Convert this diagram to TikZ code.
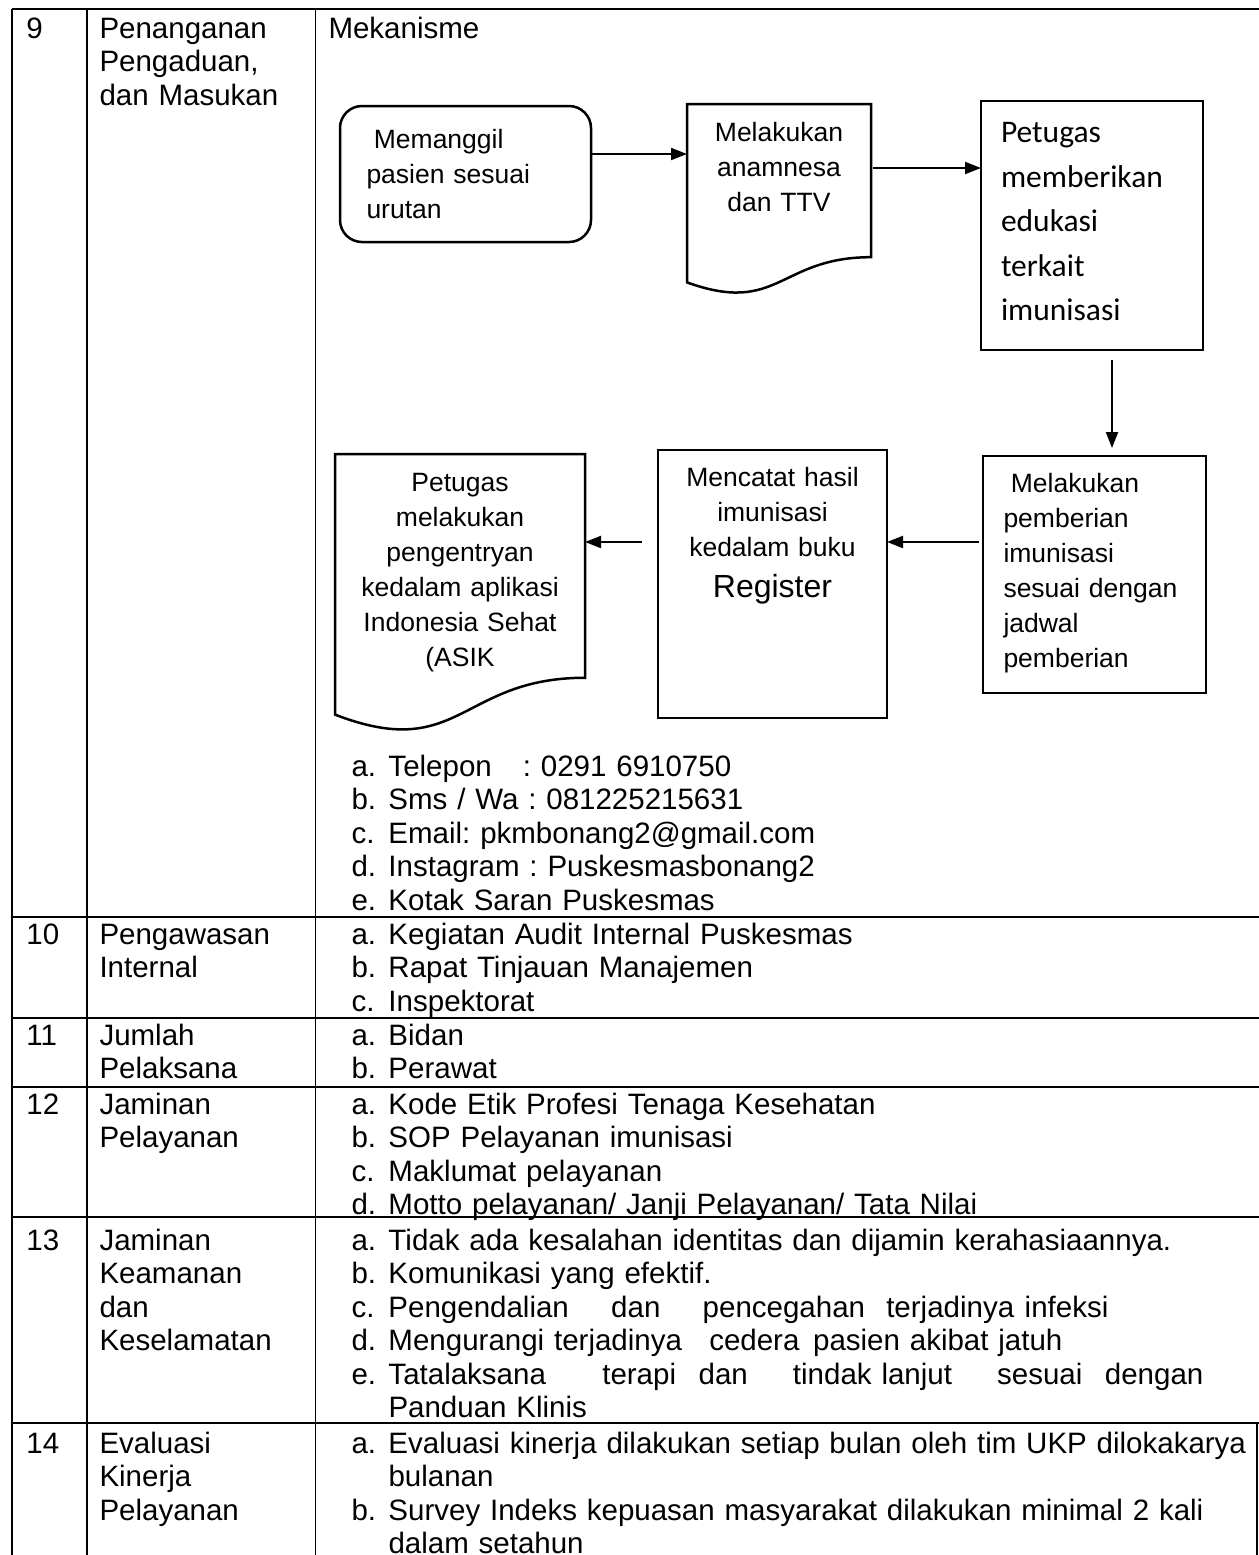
\documentclass[tikz,border=0pt]{standalone}
\usepackage{fontspec}
\setmainfont{Liberation Sans}
\newfontfamily\calibri{Carlito}
\usetikzlibrary{positioning,calc,arrows.meta}
\frenchspacing
\newlength{\pix}
\setlength{\pix}{0.4pt}
\newcommand{\cellfont}{\fontsize{11.8}{13.36}\selectfont}
\newcommand{\boxfont}{\fontsize{10.6}{14}\selectfont}
\newcommand{\edufont}{\calibri\fontsize{12.6}{17.8}\selectfont}
\newcommand{\itm}[2]{\makebox[37\pix][l]{#1}#2}
% wavy "document" outline round an empty node
\newcommand{\docpath}[1]{%
  \draw[boxline] (#1.north west) -- (#1.north east)
    -- ($(#1.north east)!0.802!(#1.south east)$)
    .. controls ($(#1.north)!0.802!(#1.south)$) and ($(#1.north)!1.107!(#1.south)$)
    .. ($(#1.north west)!0.934!(#1.south west)$) -- cycle;}
\tikzset{
  tabline/.style={line width=0.7pt},
  boxline/.style={line width=1pt},
  flowbox/.style={draw,boxline,rectangle,inner sep=0pt,outer sep=0pt,anchor=north west},
  docbox/.style={rectangle,inner sep=0pt,outer sep=0pt,anchor=north west},
  boxtxt/.style={inner sep=0pt,font=\boxfont,execute at begin node=\strut},
  cell/.style={inner sep=0pt,anchor=north west,yshift=9.352pt,text width=900\pix,
    align=left,font=\cellfont,execute at begin node=\strut},
  arr/.style={line width=0.8pt,-{Triangle[length=6.4pt,width=4.8pt]}}
}

\begin{document}
\begin{tikzpicture}[x=\pix,y=-\pix]
\useasboundingbox (0,0) rectangle (1259,1555);

% table rules
\draw[tabline] (12,9) -- (1259,9);
\foreach \y in {917,1018,1087,1217,1423}
  \draw[tabline] (12,\y) -- (1259,\y);
\foreach \x in {12,87,315.5}
  \draw[tabline] (\x,9) -- (\x,1555);
\draw[tabline] (1257,1423) -- (1257,1555);

% row 9
\node[cell] (no_9) at (26,38) {9};
\node[cell] (head_9) at (99,38) {Penanganan\\Pengaduan,\\dan Masukan};
\node[cell] (mekanisme) at (328,38) {Mekanisme};

% flowchart boxes
\node[flowbox,rounded corners=8.8pt,minimum width=251\pix,minimum height=136\pix] (call) at (340,106) {};
\node[docbox,minimum width=184\pix,minimum height=191\pix] (anamnesa) at (687,104) {};
\node[flowbox,minimum width=222\pix,minimum height=249\pix] (edukasi) at (981,101) {};
\node[flowbox,minimum width=223\pix,minimum height=237\pix] (pemberian) at (983,456) {};
\node[flowbox,minimum width=229\pix,minimum height=268\pix] (catat) at (658,450) {};
\node[docbox,minimum width=250\pix,minimum height=279\pix] (entry) at (335,454) {};
\docpath{anamnesa}
\docpath{entry}

% texts inside the boxes
\node[boxtxt,text width=220\pix,align=left,below right=17.5\pix and 26\pix of call.north west] (call_txt)
  {\hspace*{0.278em}Memanggil\\pasien sesuai\\urutan};
\node[boxtxt,text width=184\pix,align=center,below=12.5\pix of anamnesa.north] (anamnesa_txt)
  {Melakukan\\anamnesa\\dan TTV};
\node[boxtxt,font=\edufont,text width=200\pix,align=left,below right=9.85\pix and 19.5\pix of edukasi.north west] (edukasi_txt)
  {Petugas\\memberikan\\edukasi\\terkait\\imunisasi};
\node[boxtxt,text width=210\pix,align=left,below right=11.5\pix and 20\pix of pemberian.north west] (pemberian_txt)
  {\hspace*{0.278em}Melakukan\\pemberian\\imunisasi\\sesuai dengan\\jadwal\\pemberian};
\node[boxtxt,text width=229\pix,align=center,below=11.5\pix of catat.north] (catat_txt)
  {Mencatat hasil\\imunisasi\\kedalam buku};
\node[anchor=base,inner sep=0pt,font=\fontsize{12.8}{15}\selectfont] (register) at ([yshift=-147\pix]catat.north) {Register};
\node[boxtxt,text width=250\pix,align=center,below=12.5\pix of entry.north] (entry_txt)
  {Petugas\\melakukan\\pengentryan\\kedalam aplikasi\\Indonesia Sehat\\(ASIK};

% connectors
\draw[arr] ([yshift=20\pix]call.east) -- ([yshift=20\pix]call.east -| anamnesa.west);
\draw[arr,shorten <=2\pix] ([yshift=31.5\pix]anamnesa.east) -- ([yshift=31.5\pix]anamnesa.east -| edukasi.west);
\draw[arr,shorten <=10\pix,shorten >=8\pix] ([xshift=20\pix]edukasi.south) -- ([xshift=20\pix]edukasi.south |- pemberian.north);
\draw[arr,shorten <=4\pix] ([yshift=32.5\pix]pemberian.west) -- ([yshift=32.5\pix]pemberian.west -| catat.east);
\draw[arr,shorten <=16\pix] ([yshift=42\pix]catat.west) -- ([yshift=42\pix]catat.west -| entry.east);

% contact list of row 9
\node[cell] (kontak) at (351,776) {\itm{a.}{Telepon\hspace{0.72em} : 0291 6910750}\\
  \itm{b.}{Sms / Wa : 081225215631}\\
  \itm{c.}{Email: pkmbonang2@gmail.com}\\
  \itm{d.}{Instagram : Puskesmasbonang2}\\
  \itm{e.}{Kotak Saran Puskesmas}};

% row 10
\node[cell] (no_10) at (26,944) {10};
\node[cell] (head_10) at (99,944) {Pengawasan\\Internal};
\node[cell] (isi_10) at (351,944) {\itm{a.}{Kegiatan Audit Internal Puskesmas}\\
  \itm{b.}{Rapat Tinjauan Manajemen}\\
  \itm{c.}{Inspektorat}};

% row 11
\node[cell] (no_11) at (26,1045) {11};
\node[cell] (head_11) at (99,1045) {Jumlah\\Pelaksana};
\node[cell] (isi_11) at (351,1045) {\itm{a.}{Bidan}\\\itm{b.}{Perawat}};

% row 12
\node[cell] (no_12) at (26,1114) {12};
\node[cell] (head_12) at (99,1114) {Jaminan\\Pelayanan};
\node[cell] (isi_12) at (351,1114) {\itm{a.}{Kode Etik Profesi Tenaga Kesehatan}\\
  \itm{b.}{SOP Pelayanan imunisasi}\\
  \itm{c.}{Maklumat pelayanan}\\
  \itm{d.}{Motto pelayanan/ Janji Pelayanan/ Tata Nilai}};

% row 13
\node[cell] (no_13) at (26,1250) {13};
\node[cell] (head_13) at (99,1250) {Jaminan\\Keamanan\\dan\\Keselamatan};
\node[cell] (isi_13) at (351,1250) {\itm{a.}{Tidak ada kesalahan identitas dan dijamin kerahasiaannya.}\\
  \itm{b.}{Komunikasi yang efektif.}\\
  \itm{c.}{\makebox[720\pix][l]{Pengendalian\hspace{\stretch{4}}dan\hspace{\stretch{4}}pencegahan\hspace{\stretch{2}}terjadinya\hspace{\stretch{1}}infeksi}}\\
  \itm{d.}{\makebox[674\pix][l]{Mengurangi terjadinya\hspace{\stretch{2}}cedera\hspace{\stretch{1}}pasien akibat jatuh}}\\
  \itm{e.}{\makebox[815\pix][l]{Tatalaksana\hspace{\stretch{5}}terapi\hspace{\stretch{2}}dan\hspace{\stretch{4}}tindak lanjut\hspace{\stretch{4}}sesuai\hspace{\stretch{2}}dengan}}\\
  \hspace*{37\pix}Panduan Klinis};

% row 14
\node[cell] (no_14) at (26,1453) {14};
\node[cell] (head_14) at (99,1453) {Evaluasi\\Kinerja\\Pelayanan};
\node[cell] (isi_14) at (351,1453) {\itm{a.}{Evaluasi kinerja dilakukan setiap bulan oleh tim UKP dilokakarya}\\
  \hspace*{37\pix}bulanan\\
  \itm{b.}{Survey Indeks kepuasan masyarakat dilakukan minimal 2 kali}\\
  \hspace*{37\pix}dalam setahun};
\end{tikzpicture}
\end{document}
